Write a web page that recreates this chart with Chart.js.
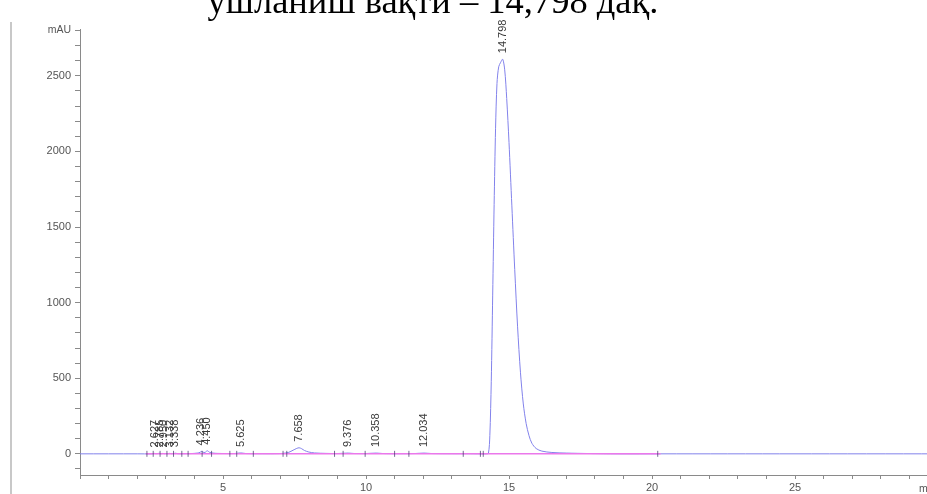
<!DOCTYPE html>
<html>
<head>
<meta charset="utf-8">
<script src="https://cdn.jsdelivr.net/npm/chart.js@4/dist/chart.umd.min.js"></script>
<style>
  html, body { margin: 0; padding: 0; background: #fff; overflow: hidden; }
  #wrap { position: relative; width: 927px; height: 494px; overflow: hidden; background: #fff; }
  #title { position: absolute; left: 0; width: 866px; top: -17px; text-align: center;
           font-family: 'Liberation Serif', 'Times New Roman', serif; font-size: 36.5px; line-height: 36px; color: #000; white-space: nowrap; }
  #frame { position: absolute; left: 10px; top: 22px; width: 2px; height: 472px; background: #c8c8c8; }
  #cv { position: absolute; left: 0; top: 0; }
</style>
</head>
<body>
<div id="wrap">
  <canvas id="cv" width="960" height="494"></canvas>
  <div id="frame"></div>
  <div id="title">ушланиш вақти – 14,798 дақ.</div>
</div>
<script>
// ---- data ----
const timeMin = [0, 2.0, 2.5, 2.6, 2.66, 2.72, 2.78, 2.84, 2.9, 2.95, 3.0, 3.07, 3.13, 3.2, 3.27, 3.34, 3.42, 3.6, 3.9, 4.1, 4.2, 4.24, 4.3, 4.37, 4.45, 4.53, 4.65, 4.8, 5.1, 5.4, 5.62, 5.8, 6.2, 6.8, 7.1, 7.3, 7.45, 7.58, 7.66, 7.75, 7.85, 8.0, 8.2, 8.6, 9.0, 9.38, 9.6, 10.0, 10.36, 10.6, 11.2, 11.7, 12.03, 12.3, 13.0, 13.6,
  14.20, 14.28, 14.33, 14.38, 14.43, 14.48, 14.53, 14.58, 14.64, 14.71, 14.78, 14.85, 14.92, 15.00, 15.10, 15.20, 15.30, 15.40, 15.50, 15.60, 15.70, 15.80, 15.95, 16.15, 16.50, 17.00, 17.80, 18.80, 20.3, 25, 30];
const signalMAU = [0, 0, 0, 3, 1, 2, 4, 1, 3, 1, 2, 1, 3, 1, 2, 4, 1, 1, 2, 5, 10, 16, 11, 9, 20, 10, 5, 3, 2, 2, 6, 2, 1, 1, 3, 10, 24, 36, 40, 34, 22, 12, 6, 3, 2, 5, 2, 2, 5, 2, 1, 2, 5, 2, 1, 1,
  0, 4, 120, 480, 1050, 1650, 2150, 2450, 2560, 2590, 2610, 2540, 2350, 2060, 1640, 1220, 840, 540, 330, 200, 120, 70, 35, 18, 9, 5, 2, 0, 0, 0, 0];

const baselineTimes = [2.3, 20.3];
const baselineMAU = [0, 0];

const eventTimes = [2.34, 2.56, 2.8, 3.04, 3.27, 3.56, 3.78, 4.27, 4.6, 5.24, 5.48, 6.06, 7.1, 7.23, 8.9, 9.2, 9.97, 11.0, 11.5, 13.4, 14.0, 14.1, 20.2];

const peakTimes  = [2.627, 2.785, 2.950, 3.132, 3.338, 4.236, 4.450, 5.625, 7.658, 9.376, 10.358, 12.034, 14.798];
const peakLabels = ['2.627', '2.785', '2.950', '3.132', '3.338', '4.236', '4.450', '5.625', '7.658', '9.376', '10.358', '12.034', '14.798'];
const peakApexMAU = [3, 4, 3, 3, 4, 16, 20, 6, 40, 5, 5, 5, 2610];

const xTickValues = [0,1,2,3,4,5,6,7,8,9,10,11,12,13,14,15,16,17,18,19,20,21,22,23,24,25,26,27,28,29,30];
const xTickLabels = ['', '', '', '', '', '5', '', '', '', '', '10', '', '', '', '', '15', '', '', '', '', '20', '', '', '', '', '25', '', '', '', '', ''];
const yTickValues = [-100,0,100,200,300,400,500,600,700,800,900,1000,1100,1200,1300,1400,1500,1600,1700,1800,1900,2000,2100,2200,2300,2400,2500,2600,2700,2800];
const yLabelValues = [0, 500, 1000, 1500, 2000, 2500];
const yUnit = 'mAU';
const xUnit = 'min';

// ---- build datasets ----
const trace = timeMin.map((t, i) => ({ x: t, y: signalMAU[i] }));
const base = baselineTimes.map((t, i) => ({ x: t, y: baselineMAU[i] }));
const events = eventTimes.map(t => ({ x: t, y: 0 }));

const peakLabelPlugin = {
  id: 'peakLabels',
  afterDatasetsDraw(chart) {
    const ctx = chart.ctx;
    const xs = chart.scales.x, ys = chart.scales.y;
    ctx.save();
    ctx.fillStyle = '#3a3a3a';
    ctx.font = '11px "Liberation Sans", Arial, sans-serif';
    ctx.textAlign = 'left';
    ctx.textBaseline = 'middle';
    peakTimes.forEach((t, i) => {
      const px = xs.getPixelForValue(t);
      const py = ys.getPixelForValue(peakApexMAU[i]) - 6;
      ctx.save();
      ctx.translate(px, py);
      ctx.rotate(-Math.PI / 2);
      ctx.fillText(peakLabels[i], 0, 0);
      ctx.restore();
    });
    // unit labels
    ctx.fillStyle = '#555';
    ctx.font = '10.5px "Liberation Sans", Arial, sans-serif';
    ctx.textAlign = 'right';
    ctx.textBaseline = 'middle';
    ctx.fillText(yUnit, ys.right - 9, ys.getPixelForValue(ys.max) + 1);
    ctx.textAlign = 'left';
    ctx.textBaseline = 'top';
    ctx.fillText(xUnit, 919, xs.top + 9);
    ctx.restore();
  }
};

new Chart(document.getElementById('cv'), {
  type: 'scatter',
  data: {
    datasets: [
      { data: trace, showLine: true, borderColor: 'rgb(130,130,235)', borderWidth: 1, pointRadius: 0, tension: 0.3, order: 3 },
      { data: base, showLine: true, borderColor: 'rgb(235,120,235)', borderWidth: 1.5, pointRadius: 0, order: 2 },
      { data: events, showLine: false, pointStyle: 'line', rotation: 90, pointRadius: 3, borderColor: 'rgba(70,60,110,0.75)', borderWidth: 1, order: 1 }
    ]
  },
  options: {
    responsive: false,
    animation: false,
    events: [],
    layout: { padding: { left: 0, top: 29, right: 22, bottom: 0 } },
    plugins: { legend: { display: false }, tooltip: { enabled: false } },
    scales: {
      x: {
        type: 'linear', min: 0, max: 30,
        afterBuildTicks: s => { s.ticks = xTickValues.map(v => ({ value: v })); },
        afterFit: s => { s.height = 19; },
        grid: { drawOnChartArea: false, drawTicks: true, tickLength: 4, color: '#8a8a8a' },
        border: { color: '#8a8a8a', width: 1 },
        ticks: {
          autoSkip: false, maxRotation: 0, padding: 2, color: '#555',
          font: { size: 11, family: '"Liberation Sans", Arial, sans-serif' },
          callback: (v) => { const i = xTickValues.indexOf(v); return i >= 0 ? xTickLabels[i] : ''; }
        }
      },
      y: {
        type: 'linear', min: -140, max: 2810,
        afterBuildTicks: s => { s.ticks = yTickValues.map(v => ({ value: v })); },
        afterFit: s => { s.width = 80; },
        grid: { drawOnChartArea: false, drawTicks: true, tickLength: 5, color: '#8a8a8a' },
        border: { color: '#8a8a8a', width: 1 },
        ticks: {
          autoSkip: false, padding: 4, color: '#555',
          font: { size: 11, family: '"Liberation Sans", Arial, sans-serif' },
          callback: (v) => yLabelValues.includes(v) ? String(v) : ''
        }
      }
    }
  },
  plugins: [peakLabelPlugin]
});
</script>
</body>
</html>
